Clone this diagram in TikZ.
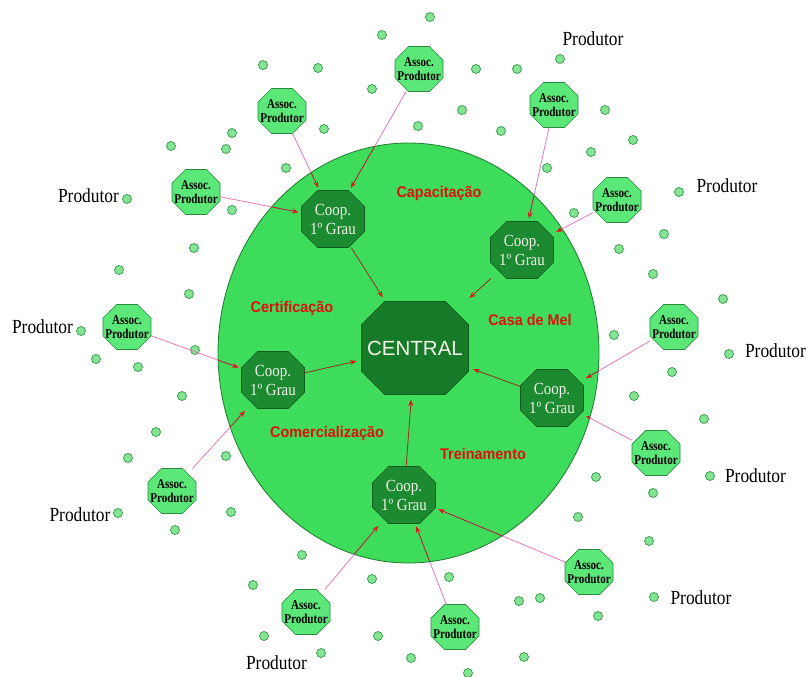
\documentclass[tikz,border=0pt]{standalone}
\usepackage{fontspec}
\setmainfont{Liberation Serif}
\newfontfamily\prodfont[FakeStretch=0.87]{Liberation Serif}
\newfontfamily\assocfont[FakeStretch=0.82]{Liberation Serif}
\newfontfamily\coopfont[FakeStretch=0.88]{Liberation Serif}
\newfontfamily\labfont[FakeStretch=0.93]{Liberation Sans}
\newfontfamily\centralfont{Liberation Sans}
\usetikzlibrary{arrows.meta}
\definecolor{bigfill}{HTML}{3DDC5A}
\definecolor{bigline}{HTML}{1F7A30}
\definecolor{coopfill}{HTML}{1B8A30}
\definecolor{coopline}{HTML}{0F5A1E}
\definecolor{centralfill}{HTML}{177A28}
\definecolor{assocfill}{HTML}{5BE878}
\definecolor{assocline}{HTML}{2A8A40}
\definecolor{dotfill}{HTML}{84E494}
\definecolor{dotline}{HTML}{2E9A45}
\definecolor{pinkc}{HTML}{E878B8}
\definecolor{darkredc}{HTML}{9A2A20}
\definecolor{arrowred}{HTML}{E01515}
\definecolor{labred}{HTML}{E01010}
\definecolor{coopwhite}{HTML}{F4F4EA}
\makeatletter
\pgfkeys{/pgf/oct chamfer/.initial=10pt}
\pgfdeclareshape{octbox}{
  \inheritsavedanchors[from=rectangle]
  \inheritanchorborder[from=rectangle]
  \inheritanchor[from=rectangle]{center}
  \inheritanchor[from=rectangle]{north}
  \inheritanchor[from=rectangle]{south}
  \inheritanchor[from=rectangle]{east}
  \inheritanchor[from=rectangle]{west}
  \inheritanchor[from=rectangle]{mid}
  \inheritanchor[from=rectangle]{base}
  \backgroundpath{
    \southwest \edef\octxa{\the\pgf@x}\edef\octya{\the\pgf@y}
    \northeast \edef\octxb{\the\pgf@x}\edef\octyb{\the\pgf@y}
    \pgfmathsetlength\pgf@xc{\pgfkeysvalueof{/pgf/oct chamfer}}
    \edef\octcc{\the\pgf@xc}
    \pgfpathmoveto{\pgfpoint{\octxa+\octcc}{\octya}}
    \pgfpathlineto{\pgfpoint{\octxb-\octcc}{\octya}}
    \pgfpathlineto{\pgfpoint{\octxb}{\octya+\octcc}}
    \pgfpathlineto{\pgfpoint{\octxb}{\octyb-\octcc}}
    \pgfpathlineto{\pgfpoint{\octxb-\octcc}{\octyb}}
    \pgfpathlineto{\pgfpoint{\octxa+\octcc}{\octyb}}
    \pgfpathlineto{\pgfpoint{\octxa}{\octyb-\octcc}}
    \pgfpathlineto{\pgfpoint{\octxa}{\octya+\octcc}}
    \pgfpathclose
  }
}
\makeatother
\begin{document}
\begin{tikzpicture}[x=1pt,y=-1pt,
  octa/.style={shape=octbox, /pgf/oct chamfer=#1, inner sep=0pt, outer sep=0pt},
  assocnode/.style={octa=13.5pt, minimum width=48pt, minimum height=45pt, fill=assocfill, draw=assocline, line width=0.7pt,
    align=center, font=\assocfont\bfseries\fontsize{13.5}{13.5}\selectfont, text=black},
  coopnode/.style={octa=16pt, minimum width=63pt, minimum height=57pt, fill=coopfill, draw=coopline, line width=0.7pt,
    align=center, font=\coopfont\fontsize{17}{19}\selectfont, text=coopwhite},
  centralnode/.style={octa=23pt, minimum width=107pt, minimum height=93pt, fill=centralfill, draw=coopline, line width=0.7pt,
    font=\centralfont\fontsize{20.5}{22}\selectfont, text=coopwhite},
  lab/.style={anchor=base, font=\labfont\bfseries\fontsize{15.5}{17}\selectfont, text=labred},
  prod/.style={anchor=base, font=\prodfont\fontsize{20}{22}\selectfont, text=black},
  pinkline/.style={draw=pinkc, line width=0.8pt},
  redline/.style={draw=darkredc, line width=0.8pt},
  tipend/.style={-{Stealth[length=6.5pt,width=5pt,color=arrowred]}},
  dotstyle/.style={fill=dotfill, draw=dotline, line width=0.7pt}
]
\useasboundingbox (0,0) rectangle (807,677);
\fill[white] (0,0) rectangle (807,677);
% big ellipse
\filldraw[fill=bigfill, draw=bigline, line width=0.8pt] (408.5,353) ellipse [x radius=190.5pt, y radius=210pt];

% dots
\foreach \x/\y in {382/35,263/65,318/68,372/89,324/129,232/133,171/146,226/149,286/168,127/199,232/210,194/248,119/270,189/294,81/331,
  430/17,476/69,517/69,560/59,462/110,418/126,501/131,605/110,633/140,591/152,547/168,574/213,679/192,664/234,619/249,653/274,723/299,614/335,
  195/350,226/456,231/512,302/555,596/477,578/517,
  96/359,138/367,182/396,156/432,128/458,118/513,175/530,253/585,372/579,264/636,378/636,321/653,
  729/354,672/372,634/396,704/419,710/476,653/493,649/541,449/577,519/601,540/598,654/597,598/616,411/658,524/657,468/673}
  \filldraw[dotstyle] (\x,\y) circle [radius=4.5pt];

% central and coops
\node[centralnode] (central) at (415,348) {CENTRAL};
\node[coopnode] (coop1) at (333,219) {Coop.\\1º Grau};
\node[coopnode] (coop2) at (522,250) {Coop.\\1º Grau};
\node[coopnode] (coop3) at (273,380) {Coop.\\1º Grau};
\node[coopnode] (coop4) at (552,398) {Coop.\\1º Grau};
\node[coopnode] (coop5) at (404,495) {Coop.\\1º Grau};

% associations
\node[assocnode] (a1) at (282,111) {Assoc.\\Produtor};
\node[assocnode] (a2) at (196,192) {Assoc.\\Produtor};
\node[assocnode] (a3) at (419,69) {Assoc.\\Produtor};
\node[assocnode] (a4) at (554,105) {Assoc.\\Produtor};
\node[assocnode] (a5) at (617,200) {Assoc.\\Produtor};
\node[assocnode] (a6) at (674,327) {Assoc.\\Produtor};
\node[assocnode] (a7) at (656,453) {Assoc.\\Produtor};
\node[assocnode] (a8) at (589,572) {Assoc.\\Produtor};
\node[assocnode] (a9) at (455,627) {Assoc.\\Produtor};
\node[assocnode] (a10) at (306,612) {Assoc.\\Produtor};
\node[assocnode] (a11) at (172,491) {Assoc.\\Produtor};
\node[assocnode] (a12) at (127,327) {Assoc.\\Produtor};

% labels
\node[lab] (l1) at (439,197) {Capacitação};
\node[lab] (l2) at (292,312) {Certificação};
\node[lab] (l3) at (530,325) {Casa de Mel};
\node[lab] (l4) at (327,437) {Comercialização};
\node[lab] (l5) at (483,459) {Treinamento};

% produtor labels
\node[prod] (p1) at (88.5,202) {Produtor};
\node[prod] (p2) at (593,46) {Produtor};
\node[prod] (p3) at (727,193) {Produtor};
\node[prod] (p4) at (775.5,357) {Produtor};
\node[prod] (p5) at (755.5,482) {Produtor};
\node[prod] (p6) at (701,604) {Produtor};
\node[prod] (p7) at (276.5,669) {Produtor};
\node[prod] (p8) at (80,521) {Produtor};
\node[prod] (p9) at (42.5,333) {Produtor};

% connectors assoc -> coop
\foreach \a/\c in {a1/coop1,a2/coop1,a3/coop1,a4/coop2,a5/coop2,a6/coop4,a7/coop4,a8/coop5,a9/coop5,a10/coop5,a11/coop3,a12/coop3}
  \draw[pinkline, shorten >=3pt] (\a) -- (\c);
\begin{scope}
  \clip (408.5,353) ellipse [x radius=190.5pt, y radius=210pt];
  \foreach \a/\c in {a1/coop1,a2/coop1,a3/coop1,a4/coop2,a5/coop2,a6/coop4,a7/coop4,a8/coop5,a9/coop5,a10/coop5,a11/coop3,a12/coop3}
    \draw[redline, tipend, shorten >=3pt] (\a) -- (\c);
\end{scope}
% coop -> central
\foreach \c in {coop1,coop2,coop3,coop4,coop5}
  \draw[redline, tipend, shorten >=5pt] (\c) -- (central);
\end{tikzpicture}
\end{document}
